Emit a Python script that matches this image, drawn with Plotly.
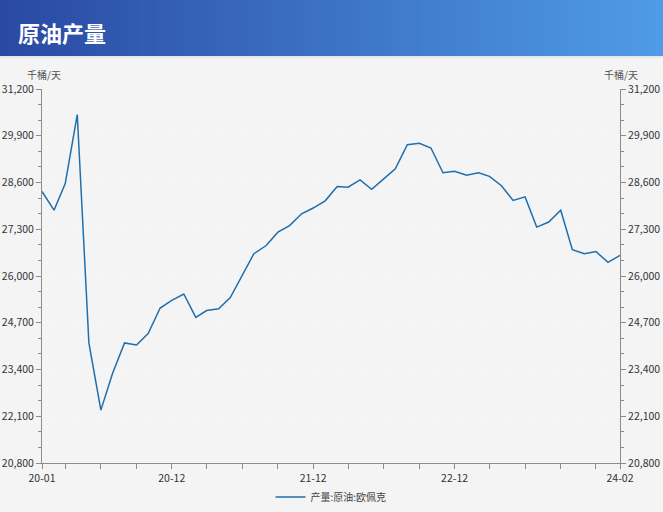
import plotly.graph_objects as go

# ---------------- data ----------------
months = [f"{y}-{m:02d}-01" for y in range(2020, 2025) for m in range(1, 13)][:50]
production = [
    28350, 27830, 28570, 30490, 24140, 22270, 23290, 24140, 24080, 24400,
    25110, 25320, 25500, 24850, 25040, 25090, 25400, 26020, 26620, 26840,
    27220, 27400, 27730, 27890, 28090, 28490, 28470, 28670, 28410, 28700,
    28980, 29650, 29690, 29560, 28870, 28910, 28800, 28870, 28770, 28510,
    28100, 28200, 27360, 27500, 27830, 26730, 26620, 26680, 26380, 26570,
]
series_name = "产量:原油:欧佩克"
title_text = "原油产量"
unit_text = "千桶/天"
y_min, y_max, y_step = 20800, 31200, 1300

x_tickvals = ["2020-01-01", "2020-03-01", "2020-06-01", "2020-09-01", "2020-12-01",
              "2021-03-01", "2021-06-01", "2021-09-01", "2021-12-01",
              "2022-03-01", "2022-06-01", "2022-09-01", "2022-12-01",
              "2023-03-01", "2023-06-01", "2023-09-01", "2023-12-01", "2024-02-01"]
x_ticktext = ["20-01", "", "", "", "20-12", "", "", "", "21-12",
              "", "", "", "22-12", "", "", "", "", "24-02"]

# ---------------- figure ----------------
W, H = 663, 512
L, R, T, B = 42, 43, 89, 49
pw, ph = W - L - R, H - T - B

def px_x(x):
    return (x - L) / pw

def px_y(y):
    return (H - B - y) / ph

FONT = "Noto Sans CJK SC, Microsoft YaHei, sans-serif"
LINE_COLOR = "#1f6fae"
AXIS_COLOR = "#8c8c8c"
TICK_FONT = dict(family=FONT, size=10.5, color="#333333")

fig = go.Figure()
fig.add_trace(go.Scatter(
    x=months, y=production, mode="lines", name=series_name,
    line=dict(color=LINE_COLOR, width=1.5), yaxis="y",
))
fig.add_trace(go.Scatter(
    x=months, y=production, mode="lines", showlegend=False, hoverinfo="skip",
    line=dict(color="rgba(0,0,0,0)", width=0), yaxis="y2",
))

yticks = list(range(y_min, y_max + 1, y_step))
yaxis_common = dict(
    range=[y_min, y_max], tickvals=yticks, tickformat=",d", automargin=False,
    showline=True, linecolor=AXIS_COLOR, linewidth=1,
    ticks="outside", ticklen=5, tickcolor=AXIS_COLOR, tickwidth=1,
    tickfont=TICK_FONT, zeroline=False,
    minor=dict(ticks="outside", ticklen=3, tickcolor=AXIS_COLOR,
               tick0=y_min, dtick=y_step / 3, showgrid=False),
)

# gradient title bar
shapes = []
n = 90
c0 = (42, 73, 163)
c1 = (79, 155, 232)
x_left, x_right = px_x(0), px_x(W)
for i in range(n):
    t = i / (n - 1)
    col = tuple(round(c0[k] + (c1[k] - c0[k]) * t) for k in range(3))
    xa = x_left + (x_right - x_left) * i / n
    xb = x_left + (x_right - x_left) * (i + 1.5) / n
    shapes.append(dict(type="rect", xref="paper", yref="paper", layer="below",
                       x0=xa, x1=min(xb, x_right), y0=px_y(56), y1=px_y(0),
                       fillcolor=f"rgb{col}", line=dict(width=0)))
shapes.append(dict(type="rect", xref="paper", yref="paper", layer="below",
                   x0=x_left, x1=x_right, y0=px_y(58), y1=px_y(56),
                   fillcolor="#e4e6ea", line=dict(width=0)))

fig.update_layout(
    width=W, height=H,
    margin=dict(l=L, r=R, t=T, b=B, pad=0, autoexpand=False),
    paper_bgcolor="#f4f4f4", plot_bgcolor="#f4f4f4",
    font=dict(family=FONT, color="#333333"),
    showlegend=True,
    legend=dict(orientation="h", x=0.5, xanchor="center",
                yref="container", y=(H - 497) / H, yanchor="middle",
                font=dict(family=FONT, size=10, color="#444444"),
                bgcolor="rgba(0,0,0,0)", itemwidth=30),
    xaxis=dict(
        type="date", range=["2020-01-01", "2024-02-01"], automargin=False,
        tickvals=x_tickvals, ticktext=x_ticktext,
        showline=True, linecolor=AXIS_COLOR, linewidth=1,
        ticks="outside", ticklen=5, tickcolor=AXIS_COLOR,
        tickfont=TICK_FONT, showgrid=False, zeroline=False,
    ),
    yaxis=dict(side="left", showgrid=True, gridcolor="rgba(255,255,255,0.45)",
               griddash="dot", gridwidth=1, **yaxis_common),
    yaxis2=dict(side="right", overlaying="y", showgrid=False, **yaxis_common),
    shapes=shapes,
    annotations=[
        dict(text=f"<b>{title_text}</b>", xref="paper", yref="paper",
             x=px_x(16), y=px_y(32), xanchor="left", yanchor="middle",
             showarrow=False, font=dict(family=FONT, size=22, color="#ffffff")),
        dict(text=unit_text, xref="paper", yref="paper",
             x=px_x(44), y=px_y(74), xanchor="center", yanchor="middle",
             showarrow=False, font=dict(family=FONT, size=10, color="#555555")),
        dict(text=unit_text, xref="paper", yref="paper",
             x=px_x(621), y=px_y(74), xanchor="center", yanchor="middle",
             showarrow=False, font=dict(family=FONT, size=10, color="#555555")),
    ],
)

fig.write_html("out.html", config={"displayModeBar": False},
               post_script="document.body.style.margin='0';document.body.style.background='#f4f4f4';")
